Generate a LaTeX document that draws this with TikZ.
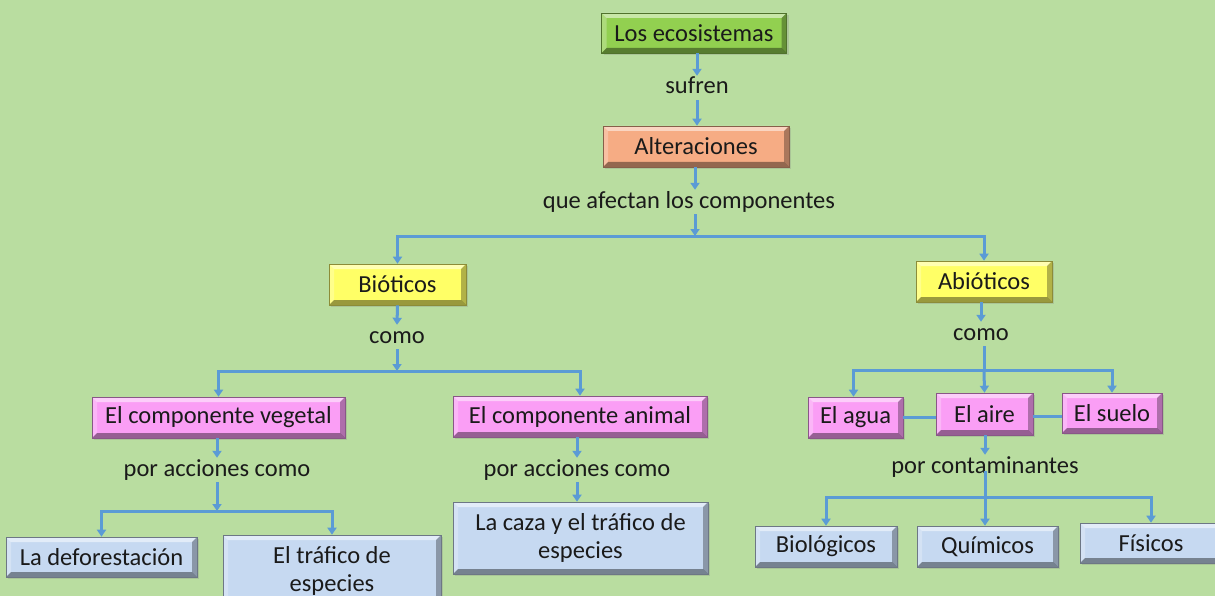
\documentclass[tikz,border=0pt]{standalone}
\usepackage{fontspec}
\setmainfont{Carlito}
\usetikzlibrary{arrows.meta,shadows}
\definecolor{bgc}{HTML}{B9DDA0}
\definecolor{gbox}{HTML}{92D050}
\definecolor{obox}{HTML}{F6AC84}
\definecolor{ybox}{HTML}{FFFF66}
\definecolor{pbox}{HTML}{FA9EF5}
\definecolor{bbox}{HTML}{C6D9F1}
\definecolor{lnc}{HTML}{5B9BD5}
\definecolor{txc}{HTML}{1A1A1A}
\tikzset{
  bx/.style={rectangle, inner sep=0pt, fill=#1, draw=#1!55!black, line width=0.6pt,
    text=txc, align=center, font=\fontsize{24.5}{28}\selectfont,
    drop shadow={opacity=0.25, shadow xshift=2pt, shadow yshift=-2pt},
    path picture={
      \fill[white,opacity=0.5] (path picture bounding box.north west) -- (path picture bounding box.north east)
        -- ([xshift=-5pt,yshift=-5pt]path picture bounding box.north east) -- ([xshift=5pt,yshift=-5pt]path picture bounding box.north west) -- cycle;
      \fill[white,opacity=0.25] (path picture bounding box.north west) -- (path picture bounding box.south west)
        -- ([xshift=5pt,yshift=5pt]path picture bounding box.south west) -- ([xshift=5pt,yshift=-5pt]path picture bounding box.north west) -- cycle;
      \fill[black,opacity=0.3] (path picture bounding box.north east) -- (path picture bounding box.south east)
        -- ([xshift=-5pt,yshift=5pt]path picture bounding box.south east) -- ([xshift=-5pt,yshift=-5pt]path picture bounding box.north east) -- cycle;
      \fill[black,opacity=0.4] (path picture bounding box.south west) -- (path picture bounding box.south east)
        -- ([xshift=-5pt,yshift=5pt]path picture bounding box.south east) -- ([xshift=5pt,yshift=5pt]path picture bounding box.south west) -- cycle;
    }},
  lbl/.style={inner sep=1pt, text=txc, font=\fontsize{24.5}{28}\selectfont, text height=17pt, text depth=5pt},
  conn/.style={draw=lnc, line width=3pt, -{Triangle[width=9pt,length=7pt]}},
  plain/.style={draw=lnc, line width=3pt}
}
\begin{document}
\begin{tikzpicture}[x=1pt,y=-1pt]
\fill[bgc] (0,0) rectangle (1215,596);
\useasboundingbox (0,0) rectangle (1215,596);

% boxes
\node[bx=gbox, minimum width=185pt, minimum height=40pt] (eco) at (694,33) {Los ecosistemas};
\node[bx=obox, minimum width=186pt, minimum height=41pt] (alt) at (696,146.5) {Alteraciones};
\node[bx=ybox, minimum width=137pt, minimum height=41pt] (bio) at (397.5,284.5) {Bióticos};
\node[bx=ybox, minimum width=136pt, minimum height=41pt] (abio) at (984,281.5) {Abióticos};
\node[bx=pbox, minimum width=253pt, minimum height=41pt] (veg) at (218.5,417.5) {El componente vegetal};
\node[bx=pbox, minimum width=254pt, minimum height=41pt] (ani) at (580,416.5) {El componente animal};
\node[bx=pbox, minimum width=95pt, minimum height=41pt] (agua) at (855.5,417.5) {El agua};
\node[bx=pbox, minimum width=97pt, minimum height=42pt] (aire) at (984.5,414) {El aire};
\node[bx=pbox, minimum width=100pt, minimum height=40pt] (suelo) at (1112,413) {El suelo};
\node[bx=bbox, minimum width=191pt, minimum height=40pt] (defo) at (101.5,557) {La deforestación};
\node[bx=bbox, minimum width=218pt, minimum height=72pt] (traf) at (332,571) {El tráfico de\\especies};
\node[bx=bbox, minimum width=255pt, minimum height=72pt] (caza) at (580.5,538) {La caza y el tráfico de\\especies};
\node[bx=bbox, minimum width=142pt, minimum height=41pt] (biol) at (826,546.5) {Biológicos};
\node[bx=bbox, minimum width=141pt, minimum height=41pt] (qui) at (987.5,546.5) {Químicos};
\node[bx=bbox, minimum width=142pt, minimum height=40pt] (fis) at (1151,543) {Físicos};

% labels
\node[lbl] (suf) at (697,88) {sufren};
\node[lbl] (que) at (689,202) {que afectan los componentes};
\node[lbl] (como1) at (397,337) {como};
\node[lbl] (como2) at (981,334) {como};
\node[lbl] (pac1) at (217,470) {por acciones como};
\node[lbl] (pac2) at (577,470) {por acciones como};
\node[lbl] (pcon) at (985,467) {por contaminantes};

% junctions
\coordinate (j1) at (695,236);
\coordinate (j2) at (397,371);
\coordinate (j3) at (217,511);
\coordinate (j4) at (984,370);
\coordinate (j5) at (985,497);
\coordinate (h1) at (0,417);
\coordinate (h2) at (0,416);

% connectors
\draw[conn] (eco.south -| suf) -- (suf.north);
\draw[conn] (suf.south) -- (suf.south |- alt.north);
\draw[conn] (alt.south -| j1) -- (que.north -| j1);
\draw[conn] (que.south -| j1) -- (j1);
\draw[conn] (j1) -| (bio.north);
\draw[conn] (j1) -| (abio.north);

\draw[conn] (bio.south) -- (como1.north);
\draw[conn] (como1.south) -- (j2);
\draw[conn] (j2) -| (veg.north);
\draw[conn] (j2) -| (ani.north);

\draw[conn] (veg.south -| pac1) -- (pac1.north);
\draw[conn] (pac1.south) -- (j3);
\draw[conn] (j3) -| (defo.north);
\draw[conn] (j3) -| (traf.north);

\draw[conn] (ani.south -| pac2) -- (pac2.north);
\draw[conn] (pac2.south) -- (pac2.south |- caza.north);

\draw[conn] (abio.south -| como2) -- (como2.north);
\draw[plain] (como2.south -| j4) -- (j4);
\draw[conn] (j4) -| ([xshift=-2pt]agua.north);
\draw[conn] (j4) -- (aire.north);
\draw[conn] (j4) -| (suelo.north);

\draw[plain] (agua.east |- h1) -- (aire.west |- h1);
\draw[plain] (aire.east |- h2) -- (suelo.west |- h2);

\draw[conn] (aire.south -| pcon) -- (pcon.north);
\draw[conn] ([yshift=8pt]pcon.south) -- (qui.north -| pcon);
\draw[conn] (j5) -| (biol.north);
\draw[conn] (j5) -| (fis.north);
\end{tikzpicture}
\end{document}
